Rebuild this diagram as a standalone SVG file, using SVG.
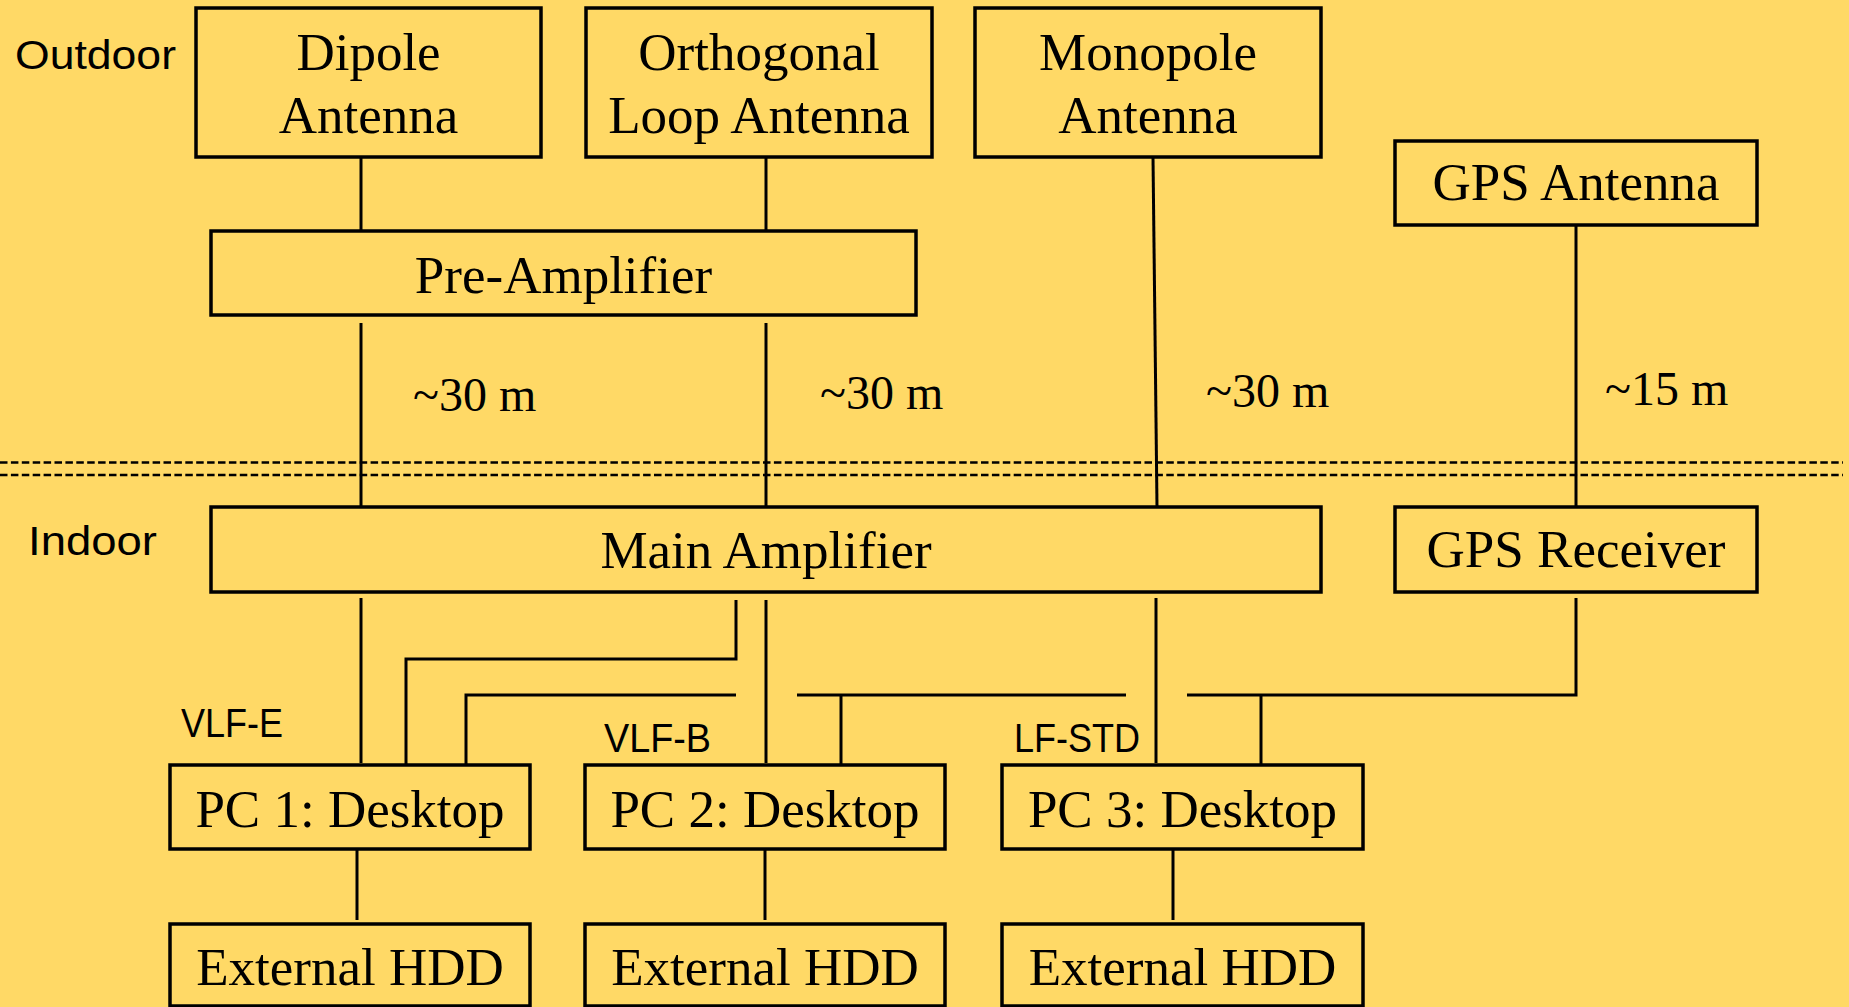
<svg xmlns="http://www.w3.org/2000/svg" width="1849" height="1007" viewBox="0 0 1849 1007">
  <style>
    .box { fill: #FFD966; stroke: #000; stroke-width: 3.5; }
    .t { font-family: "Liberation Serif", "Times New Roman", serif; font-size: 53px; fill: #000; text-anchor: middle; }
    .d { font-family: "Liberation Serif", "Times New Roman", serif; font-size: 48px; fill: #000; }
    .s { font-family: "Liberation Sans", Arial, sans-serif; font-size: 41px; fill: #000; }
    .ln { fill: none; stroke: #000; stroke-width: 3; }
    .dash { fill: none; stroke: #000; stroke-width: 2.5; stroke-dasharray: 7.5 3.4; }
  </style>
  <rect x="0" y="0" width="1849" height="1007" fill="#FFD966"/>

  <g id="zone-labels">
    <text class="s" x="15" y="69" textLength="161" lengthAdjust="spacingAndGlyphs">Outdoor</text>
    <text class="s" x="28" y="555" textLength="129" lengthAdjust="spacingAndGlyphs">Indoor</text>
  </g>

  <g id="boundary">
    <line class="dash" x1="0" y1="462.5" x2="1843" y2="462.5"/>
    <line class="dash" x1="0" y1="475" x2="1843" y2="475"/>
  </g>

  <g id="connectors">
    <path class="ln" d="M361 157 V231"/>
    <path class="ln" d="M766 157 V231"/>
    <path class="ln" d="M361 323 V507"/>
    <path class="ln" d="M766 323 V507"/>
    <path class="ln" d="M1153 157 L1157 507"/>
    <path class="ln" d="M1576 226 V507"/>
    <path class="ln" d="M361 598 V763"/>
    <path class="ln" d="M736 600 V659 H406 V765"/>
    <path class="ln" d="M766 600 V763"/>
    <path class="ln" d="M736 695 H466 V765"/>
    <path class="ln" d="M797 695 H1126"/>
    <path class="ln" d="M841 695 V766"/>
    <path class="ln" d="M1156 598 V763"/>
    <path class="ln" d="M1187 695 H1576 V598"/>
    <path class="ln" d="M1261 695 V765"/>
    <path class="ln" d="M357 849 V920"/>
    <path class="ln" d="M765 849 V920"/>
    <path class="ln" d="M1173 849 V920"/>
  </g>

  <g id="cable-labels">
    <text class="d" x="413" y="411">~30 m</text>
    <text class="d" x="820" y="409">~30 m</text>
    <text class="d" x="1206" y="407">~30 m</text>
    <text class="d" x="1605" y="405">~15 m</text>
  </g>

  <g id="dipole-antenna">
    <rect class="box" x="196" y="8" width="345" height="149"/>
    <text class="t" x="368.5" y="70">Dipole</text>
    <text class="t" x="368.5" y="133">Antenna</text>
  </g>
  <g id="orthogonal-loop-antenna">
    <rect class="box" x="586" y="8" width="346" height="149"/>
    <text class="t" x="759" y="70">Orthogonal</text>
    <text class="t" x="759" y="133">Loop Antenna</text>
  </g>
  <g id="monopole-antenna">
    <rect class="box" x="975" y="8" width="346" height="149"/>
    <text class="t" x="1148" y="70">Monopole</text>
    <text class="t" x="1148" y="133">Antenna</text>
  </g>
  <g id="gps-antenna">
    <rect class="box" x="1395" y="141" width="362" height="84"/>
    <text class="t" x="1576" y="200">GPS Antenna</text>
  </g>
  <g id="pre-amplifier">
    <rect class="box" x="211" y="231" width="705" height="84"/>
    <text class="t" x="563.5" y="293">Pre-Amplifier</text>
  </g>
  <g id="main-amplifier">
    <rect class="box" x="211" y="507" width="1110" height="85"/>
    <text class="t" x="766" y="568">Main Amplifier</text>
  </g>
  <g id="gps-receiver">
    <rect class="box" x="1395" y="507" width="362" height="85"/>
    <text class="t" x="1576" y="567">GPS Receiver</text>
  </g>

  <g id="pc1">
    <text class="s" x="181" y="737" textLength="102" lengthAdjust="spacingAndGlyphs">VLF-E</text>
    <rect class="box" x="170" y="765" width="360" height="84"/>
    <text class="t" x="350" y="827">PC 1: Desktop</text>
  </g>
  <g id="pc2">
    <text class="s" x="604" y="752" textLength="107" lengthAdjust="spacingAndGlyphs">VLF-B</text>
    <rect class="box" x="585" y="765" width="360" height="84"/>
    <text class="t" x="765" y="827">PC 2: Desktop</text>
  </g>
  <g id="pc3">
    <text class="s" x="1014" y="752" textLength="126" lengthAdjust="spacingAndGlyphs">LF-STD</text>
    <rect class="box" x="1002" y="765" width="361" height="84"/>
    <text class="t" x="1182.5" y="827">PC 3: Desktop</text>
  </g>

  <g id="hdd1">
    <rect class="box" x="170" y="924" width="360" height="82"/>
    <text class="t" x="350" y="985">External HDD</text>
  </g>
  <g id="hdd2">
    <rect class="box" x="585" y="924" width="360" height="82"/>
    <text class="t" x="765" y="985">External HDD</text>
  </g>
  <g id="hdd3">
    <rect class="box" x="1002" y="924" width="361" height="82"/>
    <text class="t" x="1182.5" y="985">External HDD</text>
  </g>
</svg>
